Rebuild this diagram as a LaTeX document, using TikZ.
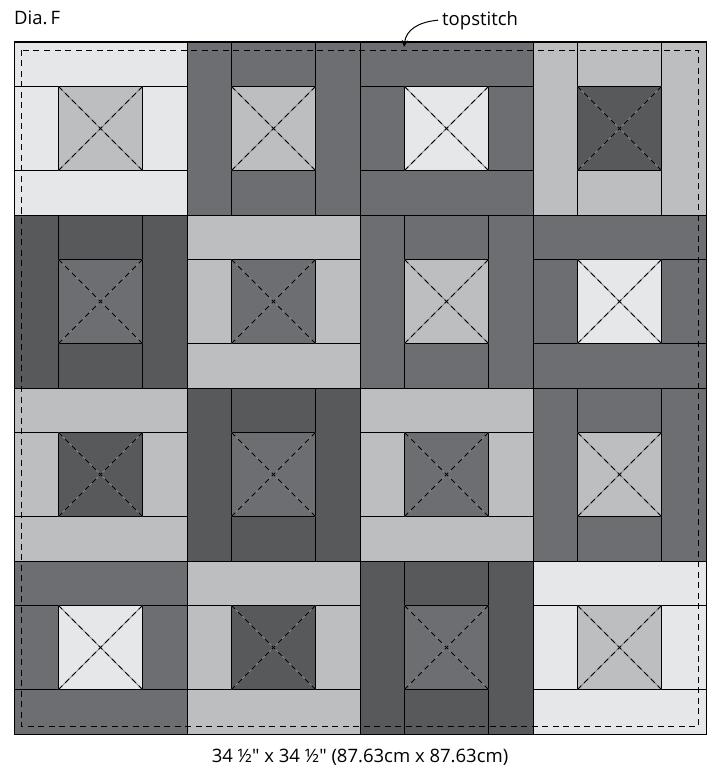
\documentclass[tikz,border=0pt]{standalone}
\usepackage{fontspec}
\setmainfont{Open Sans}
\usetikzlibrary{arrows.meta}
\definecolor{qA}{HTML}{E6E7E8}
\definecolor{qB}{HTML}{BCBEC0}
\definecolor{qC}{HTML}{6D6E71}
\definecolor{qD}{HTML}{58595B}
\definecolor{xline}{HTML}{808285}
\tikzset{
  patch/.style={draw=black, line width=0.9pt},
  xsolid/.style={draw=xline, line width=0.8pt},
  xdash/.style={draw=black, line width=0.9pt, dash pattern=on 5.5pt off 4pt, dash phase=3pt},
  stitch/.style={draw=black, line width=0.9pt, dash pattern=on 6pt off 4.5pt},
  lbl/.style={font=\fontsize{18.5}{21}\selectfont, inner sep=0pt}
}
\begin{document}
\begin{tikzpicture}[x=1pt,y=-1pt]
\useasboundingbox (0,0) rectangle (714,767);
\foreach \c/\r/\t/\sc/\cc in {0/0/0/qA/qB, 1/0/1/qC/qB, 2/0/0/qC/qA, 3/0/1/qB/qD,
  0/1/1/qD/qC, 1/1/0/qB/qC, 2/1/1/qC/qB, 3/1/0/qC/qA,
  0/2/0/qB/qD, 1/2/1/qD/qC, 2/2/0/qB/qC, 3/2/1/qC/qB,
  0/3/0/qC/qA, 1/3/0/qB/qD, 2/3/1/qD/qC, 3/3/0/qA/qB}
{
  \begin{scope}[shift={(14+173*\c,42+173*\r)}]
    \ifnum\t=0
      \path[patch, fill=\sc] (0,0) rectangle (173,44.5);
      \path[patch, fill=\sc] (0,128.5) rectangle (173,173);
      \path[patch, fill=\sc] (0,44.5) rectangle (44.5,128.5);
      \path[patch, fill=\sc] (128.5,44.5) rectangle (173,128.5);
    \else
      \path[patch, fill=\sc] (0,0) rectangle (44.5,173);
      \path[patch, fill=\sc] (128.5,0) rectangle (173,173);
      \path[patch, fill=\sc] (44.5,0) rectangle (128.5,44.5);
      \path[patch, fill=\sc] (44.5,128.5) rectangle (128.5,173);
    \fi
    \path[patch, fill=\cc] (44.5,44.5) rectangle (128.5,128.5);
    \path[xsolid] (44.5,44.5) -- (128.5,128.5) (128.5,44.5) -- (44.5,128.5);
    \path[xdash] (86.5,86.5) -- (44.5,44.5);
    \path[xdash] (86.5,86.5) -- (128.5,44.5);
    \path[xdash] (86.5,86.5) -- (44.5,128.5);
    \path[xdash] (86.5,86.5) -- (128.5,128.5);
  \end{scope}
}
\draw[black, line width=1pt] (14,42) rectangle (706,734);
\path[stitch] (21.7,50) rectangle (698.3,726.3);
\node[lbl, anchor=base west] (dia) at (14,25) {Dia.\,F};
\node[lbl, anchor=base west] (ts) at (442,26) {topstitch};
\coordinate (tstip) at (404,47);
\draw[line width=1pt, -{Stealth[length=7pt,width=6.5pt]}] ([xshift=-4pt,yshift=1pt]ts.west) .. controls (418,22) and (406,30) .. (tstip);
\node[lbl, anchor=base] (dims) at (360,762) {34 ½\textquotedbl{} x 34 ½\textquotedbl{} (87.63cm x 87.63cm)};
\end{tikzpicture}
\end{document}
